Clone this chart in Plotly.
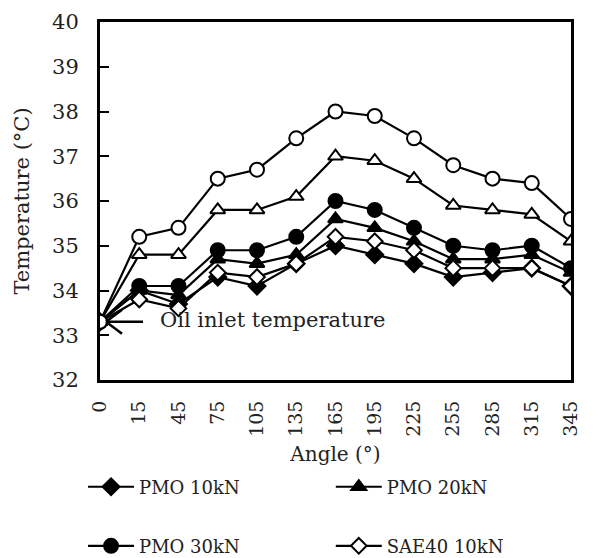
import plotly.graph_objects as go

angles = ["0", "15", "45", "75", "105", "135", "165", "195", "225", "255", "285", "315", "345"]
pmo_10 = [33.3, 34.0, 33.7, 34.3, 34.1, 34.6, 35.0, 34.8, 34.6, 34.3, 34.4, 34.5, 34.1]
pmo_20 = [33.3, 34.0, 33.9, 34.7, 34.6, 34.8, 35.6, 35.4, 35.1, 34.7, 34.7, 34.8, 34.4]
pmo_30 = [33.3, 34.1, 34.1, 34.9, 34.9, 35.2, 36.0, 35.8, 35.4, 35.0, 34.9, 35.0, 34.5]
sae_10 = [33.3, 33.8, 33.6, 34.4, 34.3, 34.6, 35.2, 35.1, 34.9, 34.5, 34.5, 34.5, 34.1]
sae_20 = [33.3, 34.8, 34.8, 35.8, 35.8, 36.1, 37.0, 36.9, 36.5, 35.9, 35.8, 35.7, 35.1]
sae_30 = [33.3, 35.2, 35.4, 36.5, 36.7, 37.4, 38.0, 37.9, 37.4, 36.8, 36.5, 36.4, 35.6]

FONT = "DejaVu Serif"

series = [
    ("PMO 10kN", pmo_10, "diamond", "black", 13, True, "legend"),
    ("PMO 20kN", pmo_20, "triangle-up", "black", 13, True, "legend2"),
    ("PMO 30kN", pmo_30, "circle", "black", 14, True, "legend3"),
    ("SAE40 10kN", sae_10, "diamond", "white", 12, True, "legend4"),
    ("SAE40 20kN", sae_20, "triangle-up", "white", 13, False, "legend"),
    ("SAE40 30kN", sae_30, "circle", "white", 14, False, "legend"),
]

fig = go.Figure()
for name, vals, sym, fill, size, show, leg in series:
    fig.add_trace(go.Scatter(
        x=angles, y=vals, name=name, mode="lines+markers",
        line=dict(color="black", width=2.2),
        marker=dict(symbol=sym, size=size, color=fill, line=dict(color="black", width=2)),
        showlegend=show, legend=leg,
    ))

# arrow pointing to the inlet point
for dy in (0, 12, -12):
    fig.add_shape(type="line", xref="x", yref="y", xsizemode="pixel", ysizemode="pixel",
                  xanchor=0, yanchor=33.3, x0=6, x1=(43 if dy == 0 else 22), y0=0, y1=dy,
                  line=dict(color="black", width=2.5))
fig.add_annotation(x=0, y=33.3, xref="x", yref="y", text="Oil inlet temperature",
                   showarrow=False, xanchor="left", xshift=58, yshift=2,
                   font=dict(family=FONT, size=21, color="#222"))

leg_common = dict(orientation="h", xanchor="left", yanchor="middle", itemwidth=46,
                  font=dict(family=FONT, size=18, color="#222"), bgcolor="rgba(0,0,0,0)")

fig.update_layout(
    width=598, height=558,
    margin=dict(l=100, r=27, t=22, b=178, autoexpand=False),
    plot_bgcolor="white", paper_bgcolor="white",
    font=dict(family=FONT, size=20, color="#222"),
    xaxis=dict(
        type="category", range=[0, 12], autorange=False,
        showline=True, linecolor="black", linewidth=3, mirror=True,
        ticks="", tickangle=-90, showgrid=False, zeroline=False,
        tickfont=dict(size=19), ticklabelstandoff=10,
        title=dict(text="Angle (°)", font=dict(size=20), standoff=12),
    ),
    yaxis=dict(
        range=[32, 40], dtick=1, autorange=False,
        showline=True, linecolor="black", linewidth=3, mirror=True,
        ticks="inside", ticklen=9, tickwidth=2, tickcolor="black",
        showgrid=False, zeroline=False, ticklabelstandoff=14,
        tickfont=dict(size=21),
        title=dict(text="Temperature (°C)", font=dict(size=21), standoff=17),
    ),
    legend=dict(x=-0.036, y=-0.299, **leg_common),
    legend2=dict(x=0.49, y=-0.299, **leg_common),
    legend3=dict(x=-0.036, y=-0.464, **leg_common),
    legend4=dict(x=0.49, y=-0.464, **leg_common),
)

fig.write_html("out.html")
